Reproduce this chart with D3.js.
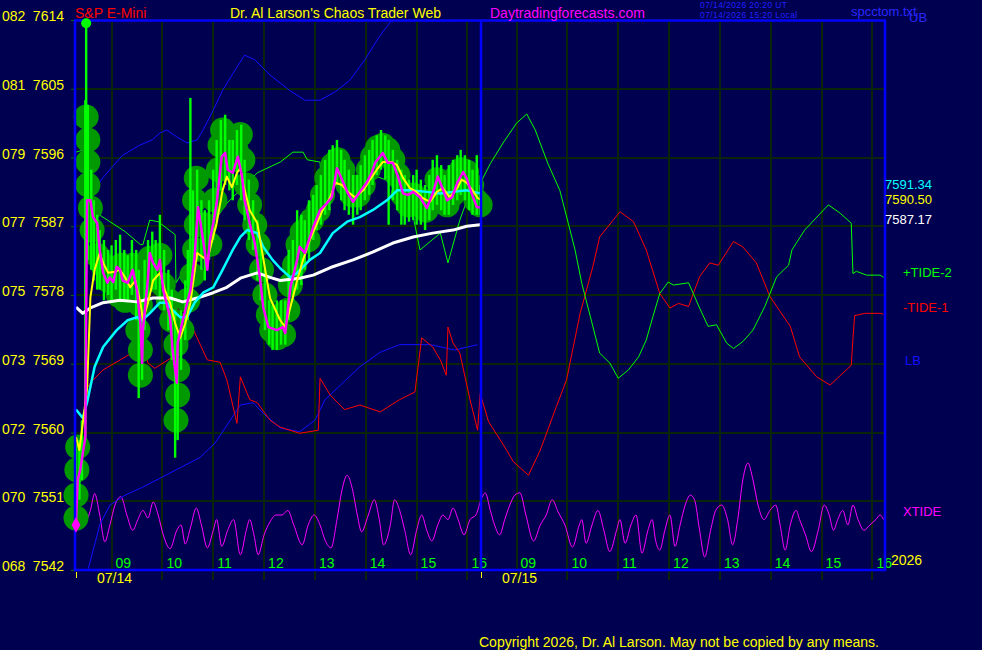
<!DOCTYPE html>
<html><head><meta charset="utf-8">
<script src="https://cdn.jsdelivr.net/npm/d3@7"></script>
<style>
body{margin:0;background:#000050;}
svg{display:block;font-family:"Liberation Sans",Arial,sans-serif;}
</style></head>
<body><svg id="c" width="982" height="650"></svg>
<script>
// ---------- axis / category data ----------
const yTicks   = [7542, 7551, 7560, 7569, 7578, 7587, 7596, 7605, 7614];
const yTickAlt = ["068","070","072","073","075","077","079","081","082"];
const days     = ["07/14", "07/15"];
const hours    = ["09","10","11","12","13","14","15","16"];
const sessionStartMin = 498;   // 08:18
const sessionLenMin   = 478;   // 08:18 -> 16:16
// all series: [minutes since 07/14 session open (sessions joined), value]

// price bars [t, high, low]
const priceBars = [
[0,7558.4,7548.6],[4,7559.0,7551.2],[7,7561.6,7553.8],[11,7603.5,7559.0],[12,7613.7,7590.4],[14,7602.9,7582.6],
[18,7594.4,7581.3],[21,7590.4,7579.9],[25,7588.5,7578.7],[28,7586.5,7578.7],[33,7585.2,7577.3],[38,7583.9,7578.0],
[42,7584.5,7577.3],[47,7585.2,7578.7],[52,7585.9,7577.3],[57,7583.9,7577.3],[61,7583.2,7577.3],[66,7585.2,7578.0],
[71,7583.9,7574.7],[74,7581.3,7564.5],[78,7577.3,7566.9],[81,7582.6,7573.4],[85,7585.2,7577.3],[90,7586.3,7578.7],
[94,7585.2,7578.7],[99,7588.5,7577.3],[104,7583.9,7576.0],[109,7581.3,7573.4],[113,7578.7,7569.5],[117,7576.0,7556.7],
[120,7573.4,7559.0],[124,7576.0,7568.2],[129,7579.9,7572.1],[132,7583.9,7574.7],[135,7603.8,7577.3],[138,7591.7,7579.9],
[143,7594.4,7582.6],[148,7590.4,7581.3],[152,7589.1,7579.9],[157,7590.4,7582.6],[162,7594.4,7585.2],[166,7598.3,7587.8],
[171,7600.9,7591.7],[176,7601.6,7592.4],[181,7598.3,7591.7],[185,7598.3,7590.4],[190,7599.6,7592.4],[195,7600.3,7590.4],
[199,7595.7,7587.8],[204,7593.1,7585.2],[209,7590.4,7583.9],[214,7587.8,7579.9],[218,7585.2,7577.3],[223,7581.3,7573.4],
[228,7577.3,7571.5],[232,7576.7,7570.8],[237,7577.3,7570.8],[242,7577.3,7571.5],[247,7577.3,7571.5],[251,7583.9,7574.7],
[256,7585.2,7577.3],[261,7589.1,7578.7],[266,7588.5,7579.3],[270,7587.8,7581.3],[275,7590.4,7582.6],[280,7591.1,7585.2],
[284,7592.4,7586.5],[289,7593.7,7587.2],[294,7595.7,7588.5],[299,7597.0,7589.1],[303,7597.6,7591.7],[308,7598.3,7592.4],
[313,7597.0,7590.4],[317,7595.7,7589.1],[322,7594.4,7588.5],[327,7593.7,7587.2],[332,7593.7,7588.5],[336,7595.0,7589.1],
[341,7596.3,7590.4],[346,7597.0,7591.1],[350,7598.3,7592.4],[355,7598.9,7593.7],[360,7599.6,7594.4],[365,7598.9,7593.1],
[369,7598.3,7587.2],[374,7597.0,7590.4],[379,7595.7,7589.1],[384,7594.4,7587.2],[388,7593.7,7587.2],[393,7593.1,7587.6],
[398,7593.7,7587.8],[402,7594.4,7587.2],[407,7593.1,7587.2],[412,7592.4,7586.5],[417,7593.7,7587.8],[421,7595.7,7589.1],
[426,7596.3,7589.8],[431,7595.0,7589.1],[435,7593.7,7588.5],[440,7595.0,7588.5],[445,7595.7,7589.8],[450,7596.3,7590.4],
[454,7597.0,7591.1],[459,7596.3,7590.4],[464,7595.7,7589.1],[468,7594.4,7588.5],[473,7596.3,7588.5],[477,7592.4,7588.5]
];
// price bubbles [t, price]
const bubbles = [
[2,7558.1],[1,7555.1],[0,7551.8],[0,7548.8],[12,7601.3],[14,7598.3],[14,7595.4],[14,7592.4],[17,7589.4],[19,7586.5],
[25,7583.2],[32,7581.9],[38,7579.9],[46,7581.3],[50,7578.0],[54,7581.9],[58,7577.3],[61,7579.9],[67,7581.9],[72,7579.3],
[76,7576.7],[73,7573.4],[76,7570.8],[76,7567.5],[85,7579.9],[87,7582.8],[93,7582.6],[99,7583.2],[103,7579.3],[109,7577.3],
[113,7574.7],[118,7571.5],[120,7568.2],[120,7564.9],[118,7561.6],[125,7573.4],[132,7577.3],[137,7580.6],[140,7583.9],
[142,7587.2],[140,7590.4],[142,7593.3],[152,7587.2],[158,7584.6],[164,7590.4],[168,7594.4],[170,7597.6],[173,7599.6],
[179,7598.3],[184,7595.7],[189,7597.0],[194,7599.0],[197,7595.7],[201,7592.4],[205,7589.8],[211,7587.2],[215,7584.6],
[219,7581.3],[223,7578.0],[227,7575.4],[231,7573.4],[238,7572.4],[245,7572.8],[250,7576.0],[253,7579.3],[258,7581.9],
[262,7584.6],[267,7586.2],[274,7585.2],[278,7587.8],[286,7589.1],[291,7591.1],[296,7593.3],[303,7595.0],[309,7595.7],
[315,7594.4],[321,7592.4],[326,7591.1],[333,7591.1],[339,7592.4],[345,7594.4],[350,7596.1],[356,7597.3],[362,7597.6],
[368,7597.0],[374,7595.7],[380,7593.7],[386,7591.1],[392,7589.8],[398,7591.1],[406,7589.8],[413,7589.1],[420,7590.4],
[426,7593.1],[432,7591.5],[438,7589.8],[444,7591.1],[448,7593.3],[455,7594.4],[461,7594.1],[467,7592.4],[472,7590.4],
[477,7589.8]
];
// fast average (magenta)
const fastAvg = [
[0,7548.3],[2,7553.8],[5,7555.1],[11,7559.4],[13,7590.4],[17,7590.4],[20,7588.2],[25,7587.4],[28,7583.9],[32,7580.9],
[37,7579.6],[40,7580.3],[44,7579.7],[48,7581.7],[52,7581.3],[55,7579.9],[61,7579.6],[67,7581.3],[72,7578.6],[76,7574.3],
[78,7569.1],[79,7573.4],[85,7580.3],[87,7583.5],[91,7582.2],[96,7581.3],[99,7582.6],[103,7578.6],[111,7575.1],[114,7570.8],
[119,7566.5],[120,7571.7],[126,7574.7],[135,7578.6],[140,7583.0],[144,7589.5],[150,7585.2],[155,7581.3],[158,7585.2],
[162,7587.4],[166,7590.0],[172,7596.1],[176,7596.6],[179,7594.4],[185,7594.0],[191,7596.1],[196,7593.5],[199,7590.4],
[205,7587.4],[211,7584.8],[217,7580.3],[221,7576.4],[227,7573.8],[237,7573.4],[244,7573.8],[247,7573.0],[253,7579.0],
[261,7582.6],[264,7584.3],[270,7583.5],[280,7586.9],[288,7589.1],[296,7590.0],[302,7590.8],[308,7594.6],[314,7593.1],
[321,7591.3],[327,7590.2],[335,7591.5],[343,7592.7],[349,7594.0],[353,7595.3],[362,7596.6],[368,7595.3],[374,7595.3],
[380,7593.5],[386,7591.3],[392,7591.1],[398,7591.5],[406,7590.8],[414,7589.4],[421,7591.3],[427,7593.5],[432,7592.1],
[438,7590.4],[444,7590.8],[450,7592.7],[457,7594.1],[461,7593.3],[467,7591.3],[473,7589.5],[477,7589.5]
];
// medium average (yellow)
const midAvg = [
[0,7559.4],[4,7557.7],[13,7565.6],[17,7577.7],[22,7581.3],[28,7583.5],[32,7582.2],[38,7580.9],[44,7581.0],[52,7581.3],
[58,7580.3],[64,7579.0],[70,7579.9],[76,7577.0],[79,7574.7],[85,7577.0],[91,7579.9],[99,7580.9],[105,7578.6],[111,7577.0],
[117,7574.3],[123,7572.4],[129,7574.3],[135,7577.0],[143,7583.5],[149,7583.0],[155,7582.6],[160,7584.8],[166,7587.4],
[173,7591.7],[178,7593.5],[184,7592.1],[190,7594.0],[194,7594.6],[197,7592.7],[205,7589.1],[214,7587.4],[221,7582.8],
[229,7577.6],[241,7574.7],[247,7573.8],[253,7576.4],[261,7579.9],[268,7582.6],[276,7585.2],[286,7587.8],[291,7589.1],
[300,7590.8],[306,7592.7],[314,7592.4],[321,7591.5],[329,7590.8],[339,7591.7],[347,7593.1],[355,7594.4],[362,7595.4],
[373,7595.4],[379,7595.0],[386,7593.3],[394,7592.0],[402,7591.5],[409,7590.7],[418,7590.2],[426,7591.5],[433,7592.0],
[441,7590.8],[450,7592.0],[455,7593.1],[461,7592.7],[468,7591.7],[474,7590.7],[477,7590.5]
];
// slow average (cyan)
const slowAvg = [
[0,7563.0],[8,7561.9],[13,7563.9],[22,7568.6],[32,7571.2],[48,7573.4],[61,7574.7],[72,7575.1],[78,7574.7],[87,7575.6],
[99,7577.0],[107,7577.0],[114,7576.0],[123,7575.1],[131,7575.1],[140,7577.0],[150,7578.3],[162,7579.0],[173,7581.3],
[185,7583.9],[194,7585.6],[202,7586.5],[214,7586.1],[221,7584.3],[232,7582.6],[241,7581.5],[253,7580.3],[261,7580.9],
[276,7582.6],[288,7583.5],[303,7586.1],[320,7587.6],[335,7588.2],[350,7589.1],[367,7590.4],[379,7591.7],[394,7591.7],
[414,7591.5],[430,7591.3],[445,7591.5],[461,7591.7],[477,7591.3]
];
// long average (white)
const longAvg = [
[0,7576.4],[8,7575.6],[17,7576.3],[32,7577.0],[52,7577.3],[72,7577.1],[91,7577.6],[111,7577.6],[126,7577.1],[143,7577.6],
[162,7578.3],[178,7579.0],[194,7580.2],[214,7580.9],[229,7580.3],[241,7579.9],[264,7580.2],[280,7580.6],[303,7581.7],
[327,7582.6],[350,7583.6],[374,7584.8],[398,7585.6],[421,7586.1],[445,7586.5],[461,7587.0],[477,7587.2]
];
// upper band (UB)
const upperBand = [
[22,7591.7],[32,7593.4],[55,7596.3],[75,7597.6],[90,7598.3],[99,7599.2],[107,7599.6],[119,7598.7],[131,7597.9],[143,7598.3],
[150,7599.6],[162,7602.2],[173,7604.8],[188,7607.5],[199,7609.4],[211,7608.8],[229,7606.8],[252,7604.8],[270,7603.5],
[288,7603.5],[306,7604.6],[323,7606.1],[341,7608.8],[359,7612.0],[373,7614.0],[394,7615.6],[418,7613.9],[450,7613.9],[465,7615.3]
];
// lower band (LB)
const lowerBand = [
[14,7542.0],[22,7545.3],[28,7547.9],[40,7550.5],[58,7551.8],[76,7552.7],[99,7554.0],[123,7555.4],[146,7556.7],[164,7558.6],
[176,7560.6],[194,7563.6],[209,7563.9],[223,7562.3],[241,7560.6],[264,7560.1],[282,7561.6],[294,7564.3],[312,7566.2],
[335,7568.6],[359,7570.5],[382,7571.5],[406,7571.5],[418,7571.5],[447,7570.8],[474,7571.5]
];
// +TIDE-2
const tidePlus = [
[0,7596.7],[9,7597.0],[19,7589.1],[40,7587.6],[58,7586.3],[76,7584.6],[79,7584.6],[87,7587.8],[97,7587.6],[117,7585.9],
[118,7579.6],[135,7582.6],[150,7585.6],[178,7590.0],[214,7594.0],[241,7595.4],[256,7596.7],[268,7596.7],[273,7595.7],
[288,7595.4],[290,7591.7],[332,7593.7],[350,7593.7],[365,7593.1],[374,7592.1],[394,7590.4],[406,7583.9],[430,7586.1],
[439,7582.2],[453,7587.8],[465,7591.5],[477,7592.6],[489,7595.2],[504,7597.9],[520,7600.5],[532,7601.7],[542,7599.6],
[557,7595.2],[571,7591.7],[581,7587.4],[589,7583.9],[597,7579.5],[607,7575.2],[618,7570.4],[630,7569.1],[640,7567.1],
[652,7568.2],[664,7569.9],[673,7572.1],[681,7575.2],[689,7578.2],[699,7579.7],[705,7579.3],[723,7579.6],[736,7576.3],
[746,7573.9],[756,7574.1],[768,7571.7],[776,7571.0],[787,7571.9],[799,7573.4],[813,7576.5],[827,7580.4],[841,7581.9],
[845,7583.9],[860,7586.5],[888,7589.8],[902,7588.7],[915,7587.4],[917,7580.8],[921,7581.1],[933,7580.6],[949,7580.6],[953,7580.3]
];
// -TIDE-1
const tideMinus = [
[12,7565.6],[17,7566.5],[32,7568.2],[52,7569.5],[72,7570.8],[78,7571.5],[85,7569.1],[93,7568.4],[117,7570.1],[119,7576.3],
[135,7574.3],[155,7569.5],[170,7569.2],[178,7566.9],[190,7561.2],[194,7567.3],[205,7564.3],[214,7563.9],[229,7561.6],
[241,7560.7],[264,7559.9],[286,7560.3],[288,7567.1],[300,7564.9],[317,7563.0],[335,7563.6],[359,7562.7],[382,7564.3],
[400,7565.3],[408,7572.4],[421,7571.2],[430,7569.5],[437,7567.5],[439,7573.8],[445,7571.7],[453,7570.4],[465,7564.3],
[474,7560.3],[477,7565.1],[487,7561.4],[506,7558.1],[516,7556.2],[534,7554.4],[548,7557.7],[567,7563.4],[579,7566.9],
[595,7575.6],[610,7581.7],[618,7585.6],[634,7587.8],[642,7588.9],[658,7587.6],[673,7583.9],[689,7578.2],[701,7576.3],
[711,7576.9],[723,7576.5],[736,7580.4],[748,7582.2],[758,7581.9],[776,7585.0],[787,7584.3],[803,7582.2],[819,7577.8],
[843,7573.9],[854,7569.9],[874,7567.3],[890,7566.2],[915,7568.8],[917,7572.3],[919,7575.3],[931,7575.6],[949,7575.6],[953,7575.5]
];
// XTIDE
const xtide = [
[12,7548.3],[17,7549.8],[22,7552.0],[28,7549.2],[34,7545.7],[40,7547.9],[46,7550.5],[53,7551.6],[60,7549.2],[67,7547.2],
[73,7548.6],[79,7549.8],[85,7548.8],[91,7550.9],[97,7549.2],[103,7546.6],[111,7544.8],[119,7547.2],[124,7547.9],[129,7545.4],
[135,7547.5],[142,7550.1],[148,7547.9],[155,7544.9],[162,7547.2],[166,7548.6],[172,7545.1],[179,7547.2],[186,7548.6],[194,7544.0],
[201,7547.2],[205,7548.6],[210,7546.6],[215,7544.0],[222,7546.6],[229,7548.3],[236,7549.2],[243,7549.2],[250,7549.8],[257,7547.9],
[267,7545.3],[274,7547.9],[281,7549.2],[288,7547.9],[294,7545.9],[301,7544.9],[308,7548.6],[314,7552.5],[320,7554.4],[326,7552.7],
[332,7549.2],[337,7547.0],[345,7549.2],[352,7551.2],[358,7548.6],[363,7545.3],[371,7547.9],[376,7551.2],[382,7549.8],[388,7547.2],
[395,7544.0],[402,7547.2],[408,7549.2],[414,7547.2],[420,7545.8],[427,7547.9],[433,7549.2],[439,7548.6],[445,7550.1],[451,7548.6],
[458,7546.6],[465,7548.6],[472,7549.2],[478,7551.2],[483,7552.1],[489,7549.8],[494,7547.9],[500,7546.6],[506,7548.6],[512,7550.5],
[518,7551.8],[524,7552.1],[531,7549.2],[540,7545.8],[548,7547.9],[555,7549.2],[562,7551.2],[569,7549.6],[577,7547.9],[586,7545.0],
[594,7547.9],[597,7548.6],[602,7545.5],[609,7547.9],[616,7549.8],[623,7547.2],[630,7544.4],[638,7547.2],[642,7548.6],[648,7545.5],
[655,7547.9],[661,7549.2],[668,7544.2],[675,7547.2],[680,7548.6],[684,7545.9],[689,7544.6],[695,7547.2],[701,7549.2],[707,7545.1],
[713,7547.9],[719,7550.5],[725,7551.8],[730,7551.2],[736,7547.2],[742,7543.7],[749,7547.2],[755,7549.8],[762,7550.5],[769,7548.6],
[775,7545.3],[781,7548.6],[787,7553.8],[793,7556.0],[799,7553.8],[805,7550.5],[812,7548.6],[819,7549.8],[826,7550.5],[831,7547.9],
[837,7544.6],[843,7547.9],[850,7549.8],[854,7548.6],[861,7546.6],[868,7544.4],[876,7547.2],[883,7550.5],[889,7549.2],[894,7547.2],
[899,7548.6],[905,7549.8],[911,7547.9],[917,7550.5],[923,7548.6],[930,7547.2],[937,7547.9],[944,7548.6],[949,7549.2],[953,7548.6]
];
const lastValues = [{v:"7591.34", c:"#00ffff"}, {v:"7590.50", c:"#ffff00"}, {v:"7587.17", c:"#ffffff"}];
const lastLevels = [7591.34, 7590.50, 7587.17];

// ---------- drawing ----------
const svg = d3.select("#c");
const L = 76, R = 886, T = 20, B = 570;
const x = d3.scaleLinear().domain([0, 2 * sessionLenMin]).range([L, R]);
const y = d3.scaleLinear().domain([yTicks[0], yTicks[yTicks.length - 1]]).range([B, T]);
const line = d3.line().x(d => x(d[0])).y(d => y(d[1]));
const smooth = d3.line().x(d => x(d[0])).y(d => y(d[1])).curve(d3.curveMonotoneX);

svg.append("rect").attr("width", 982).attr("height", 650).attr("fill", "#000050");

// grid
const gridCol = "#0a240a";
const hourTicks = [];
days.forEach((d, i) => hours.forEach(h => hourTicks.push({t: i * sessionLenMin + (+h * 60 - sessionStartMin), h})));
svg.append("g").attr("shape-rendering", "crispEdges").selectAll("line").data(yTicks).join("line")
  .attr("x1", L).attr("x2", R - 1).attr("y1", d => Math.round(y(d))).attr("y2", d => Math.round(y(d)))
  .attr("stroke", gridCol).attr("stroke-width", 2);
svg.append("g").attr("shape-rendering", "crispEdges").selectAll("line").data(hourTicks).join("line")
  .attr("x1", d => Math.round(x(d.t))).attr("x2", d => Math.round(x(d.t))).attr("y1", T).attr("y2", 580)
  .attr("stroke", gridCol).attr("stroke-width", 2);
// left tick marks + labels
svg.append("g").selectAll("line").data(yTicks).join("line")
  .attr("x1", 71).attr("x2", 75).attr("y1", d => y(d) + 0.5).attr("y2", d => y(d) + 0.5).attr("stroke", "#007000");
const yl = svg.append("g").attr("font-size", 14).attr("fill", "#ffff00");
yl.selectAll("text.a").data(yTicks).join("text").attr("class", "a")
  .attr("x", 2).attr("y", d => y(d) + 1).text((d, i) => yTickAlt[i]);
yl.selectAll("text.b").data(yTicks).join("text").attr("class", "b")
  .attr("x", 64).attr("text-anchor", "end").attr("y", d => y(d) + 1).text(d => d);

// hour labels
svg.append("g").attr("font-size", 14).attr("fill", "#00ff00").selectAll("text").data(hourTicks).join("text")
  .attr("x", d => x(d.t) + 4).attr("y", 568).text(d => d.h);

// clip
svg.append("clipPath").attr("id", "clip").append("rect").attr("x", L).attr("y", T).attr("width", R - L).attr("height", B - T);
const g = svg.append("g").attr("clip-path", "url(#clip)");
const gFree = svg.append("g");

function drawLine(data, color, w, gen) {
  g.append("path").datum(data).attr("d", gen || line).attr("fill", "none").attr("stroke", color)
   .attr("stroke-width", w).attr("stroke-linejoin", "round");
}
drawLine(xtide, "#ff00ff", 1, smooth);
drawLine(upperBand, "#1010ff", 1);
drawLine(lowerBand, "#1010ff", 1);
drawLine(tideMinus, "#ff0000", 1);
drawLine(tidePlus, "#00ff00", 1);

// bubbles (not clipped: they spill over the frame like the original)
gFree.append("g").selectAll("circle").data(bubbles).join("circle")
  .attr("cx", d => x(d[0])).attr("cy", d => y(d[1])).attr("r", 12.5).attr("fill", "#009900");
// price bars
gFree.append("g").selectAll("line").data(priceBars).join("line")
  .attr("x1", d => x(d[0])).attr("x2", d => x(d[0])).attr("y1", d => y(d[1])).attr("y2", d => y(d[2]))
  .attr("stroke", "#00ff00").attr("stroke-width", 2.4);

const g2 = svg.append("g").attr("clip-path", "url(#clip)");
function drawLine2(data, color, w) {
  g2.append("path").datum(data).attr("d", line).attr("fill", "none").attr("stroke", color)
   .attr("stroke-width", w).attr("stroke-linejoin", "round");
}
drawLine2(longAvg, "#ffffff", 3);
drawLine2(slowAvg, "#00ffff", 2.5);
drawLine2(midAvg, "#ffff00", 2);
drawLine2(fastAvg, "#ff00ff", 2.5);

// frame
const fr = svg.append("g").attr("stroke", "#0000ff").attr("stroke-width", 2.5);
fr.append("line").attr("x1", 75).attr("x2", 75).attr("y1", T).attr("y2", B + 1);
fr.append("line").attr("x1", 74).attr("x2", 886).attr("y1", T + 0.5).attr("y2", T + 0.5);
fr.append("line").attr("x1", 74).attr("x2", 886).attr("y1", B).attr("y2", B);
fr.append("line").attr("x1", 885).attr("x2", 885).attr("y1", T).attr("y2", B + 1);
fr.append("line").attr("x1", x(sessionLenMin)).attr("x2", x(sessionLenMin)).attr("y1", T).attr("y2", B + 1);

// start marker and spike-top dot (drawn over the frame)
const s0 = fastAvg[0];
svg.append("path").attr("d", d3.symbol(d3.symbolDiamond, 70)()).attr("transform", `translate(${x(s0[0])},${y(s0[1]) + 3})`).attr("fill", "#ff00ff");
svg.append("circle").attr("cx", x(priceBars[4][0])).attr("cy", y(priceBars[4][1]) + 1).attr("r", 5).attr("fill", "#00ff00");

// day ticks and labels
days.forEach((d, i) => {
  const px = x(i * sessionLenMin);
  svg.append("line").attr("x1", px + 0.5).attr("x2", px + 0.5).attr("y1", 572).attr("y2", 578).attr("stroke", "#ffff00");
  svg.append("text").attr("x", px + 21).attr("y", 583).attr("font-size", 14).attr("fill", "#ffff00").text(d);
});
svg.append("text").attr("x", 891).attr("y", 565).attr("font-size", 14).attr("fill", "#ffff00").text("2026");

// titles
svg.append("text").attr("x", 75).attr("y", 18).attr("font-size", 14).attr("fill", "#ff0000").text("S&P E-Mini");
svg.append("text").attr("x", 230).attr("y", 18).attr("font-size", 14).attr("fill", "#ffff00").text("Dr. Al Larson's Chaos Trader Web");
svg.append("text").attr("x", 490).attr("y", 18).attr("font-size", 14).attr("fill", "#ff00ff").text("Daytradingforecasts.com");
svg.append("text").attr("x", 700).attr("y", 8).attr("font-size", 8.5).attr("letter-spacing", 0.4).attr("fill", "#2020ff").text("07/14/2026 20:20 UT");
svg.append("text").attr("x", 700).attr("y", 18).attr("font-size", 8.5).attr("letter-spacing", 0.4).attr("fill", "#2020ff").text("07/14/2026 15:20 Local");
svg.append("text").attr("x", 851).attr("y", 16).attr("font-size", 13).attr("fill", "#2828ff").text("spcctom.txt");
svg.append("text").attr("x", 909).attr("y", 22).attr("font-size", 13).attr("fill", "#2828ff").text("UB");

// right labels
const rl = svg.append("g").attr("font-size", 13);
rl.selectAll("text").data(lastValues).join("text")
  .attr("x", 885).attr("y", (d, i) => y(lastLevels[i]) + [-4, 4, -1][i]).attr("fill", d => d.c).text(d => d.v);
rl.append("text").attr("x", 903).attr("y", 277).attr("fill", "#00ff00").text("+TIDE-2");
rl.append("text").attr("x", 903).attr("y", 312).attr("fill", "#ff0000").text("-TIDE-1");
rl.append("text").attr("x", 905).attr("y", 365).attr("fill", "#1010ff").text("LB");
rl.append("text").attr("x", 903).attr("y", 516).attr("fill", "#ff00ff").text("XTIDE");

svg.append("text").attr("x", 479).attr("y", 647).attr("font-size", 14).attr("fill", "#ffff00")
  .text("Copyright 2026, Dr. Al Larson. May not be copied by any means.");
</script></body></html>
